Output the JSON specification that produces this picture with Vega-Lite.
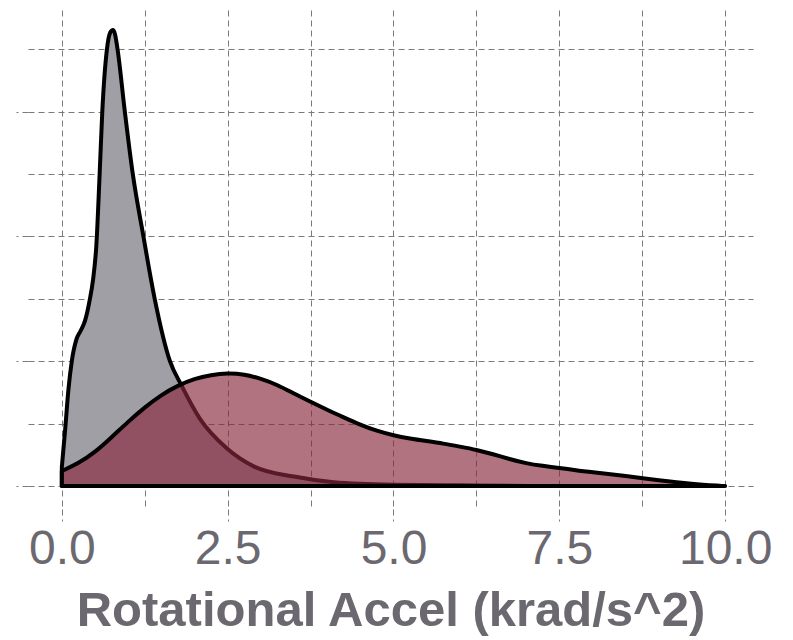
{
  "$schema": "https://vega.github.io/schema/vega-lite/v6.json",
  "width": 725,
  "height": 499,
  "autosize": "none",
  "padding": {"left": 28, "top": 10, "right": 40, "bottom": 131},
  "background": "white",
  "config": {"view": {"stroke": null}},
  "datasets": {
    "gray": [
      {"x": 0, "y": 0.03}, {"x": 0.05, "y": 0.09}, {"x": 0.1, "y": 0.155}, {"x": 0.15, "y": 0.2},
      {"x": 0.22, "y": 0.235}, {"x": 0.28, "y": 0.248}, {"x": 0.35, "y": 0.265}, {"x": 0.42, "y": 0.298},
      {"x": 0.47, "y": 0.33}, {"x": 0.52, "y": 0.385}, {"x": 0.57, "y": 0.5}, {"x": 0.61, "y": 0.6},
      {"x": 0.68, "y": 0.7}, {"x": 0.73, "y": 0.727}, {"x": 0.77, "y": 0.731}, {"x": 0.8, "y": 0.725},
      {"x": 0.84, "y": 0.7}, {"x": 0.95, "y": 0.6}, {"x": 1.07, "y": 0.5}, {"x": 1.23, "y": 0.4},
      {"x": 1.4, "y": 0.3}, {"x": 1.63, "y": 0.2}, {"x": 1.8, "y": 0.162}, {"x": 2.08, "y": 0.108},
      {"x": 2.49, "y": 0.06}, {"x": 2.9, "y": 0.031}, {"x": 3.5, "y": 0.015}, {"x": 4.1, "y": 0.006},
      {"x": 5, "y": 0.002}, {"x": 6, "y": 0.001}, {"x": 7, "y": 0}, {"x": 10, "y": 0}
    ],
    "maroon": [
      {"x": 0, "y": 0.024}, {"x": 0.25, "y": 0.036}, {"x": 0.5, "y": 0.054}, {"x": 0.75, "y": 0.078},
      {"x": 1.0, "y": 0.103}, {"x": 1.25, "y": 0.126}, {"x": 1.5, "y": 0.146}, {"x": 1.75, "y": 0.161},
      {"x": 2.0, "y": 0.172}, {"x": 2.25, "y": 0.178}, {"x": 2.5, "y": 0.181}, {"x": 2.75, "y": 0.179},
      {"x": 3.0, "y": 0.172}, {"x": 3.25, "y": 0.162}, {"x": 3.5, "y": 0.148}, {"x": 3.75, "y": 0.135},
      {"x": 4.0, "y": 0.122}, {"x": 4.25, "y": 0.11}, {"x": 4.5, "y": 0.098}, {"x": 4.75, "y": 0.088},
      {"x": 5.0, "y": 0.081}, {"x": 5.25, "y": 0.076}, {"x": 5.5, "y": 0.072}, {"x": 5.75, "y": 0.068},
      {"x": 6.0, "y": 0.063}, {"x": 6.25, "y": 0.058}, {"x": 6.5, "y": 0.051}, {"x": 6.75, "y": 0.043},
      {"x": 7.0, "y": 0.036}, {"x": 7.25, "y": 0.032}, {"x": 7.5, "y": 0.029}, {"x": 7.75, "y": 0.025},
      {"x": 8.0, "y": 0.022}, {"x": 8.5, "y": 0.016}, {"x": 9.0, "y": 0.009}, {"x": 9.5, "y": 0.003},
      {"x": 9.95, "y": 0}
    ]
  },
  "layer": [
    {
      "data": {"name": "gray"},
      "mark": {"type": "area", "interpolate": "monotone", "fill": "#a09fa6", "stroke": "black", "strokeWidth": 4, "strokeJoin": "round"},
      "encoding": {
        "x": {
          "field": "x", "type": "quantitative",
          "scale": {"domain": [-0.51, 10.42], "nice": false, "zero": false},
          "axis": {
            "values": [0, 1.25, 2.5, 3.75, 5, 6.25, 7.5, 8.75, 10],
            "grid": true, "gridDash": [6, 4], "gridColor": "#7a7a7a", "gridWidth": 1,
            "domain": false,
            "ticks": true, "tickSize": 12, "tickDash": [6, 4], "tickColor": "#7a7a7a", "tickWidth": 1,
            "tickOpacity": {"condition": {"test": "datum.value % 2.5 !== 0", "value": 0}, "value": 1},
            "labelExpr": "datum.value % 2.5 === 0 ? format(datum.value, '.1f') : ''",
            "labelFont": "Liberation Sans", "labelFontSize": 48, "labelColor": "#6b6870",
            "labelPadding": 4, "labelOverlap": false, "labelFlush": false,
            "title": "Rotational Accel (krad/s^2)",
            "titleFont": "Liberation Sans", "titleFontSize": 49, "titleFontWeight": "bold",
            "titleColor": "#6b6870", "titlePadding": 13
          }
        },
        "y": {
          "field": "y", "type": "quantitative",
          "scale": {"domain": [-0.037, 0.763], "nice": false, "zero": false},
          "axis": {
            "values": [0, 0.1, 0.2, 0.3, 0.4, 0.5, 0.6, 0.7],
            "grid": true, "gridDash": [6, 4], "gridColor": "#7a7a7a", "gridWidth": 1,
            "domain": false, "labels": false, "title": null,
            "ticks": true, "tickSize": 12, "tickDash": [6, 4], "tickColor": "#7a7a7a", "tickWidth": 1,
            "tickOpacity": {"condition": {"test": "round(datum.value * 10) % 2 === 1", "value": 0}, "value": 1}
          }
        }
      }
    },
    {
      "data": {"name": "maroon"},
      "mark": {"type": "area", "interpolate": "basis", "fill": "#89283e", "fillOpacity": 0.65, "stroke": "black", "strokeWidth": 4, "strokeJoin": "round"},
      "encoding": {
        "x": {"field": "x", "type": "quantitative"},
        "y": {"field": "y", "type": "quantitative"}
      }
    }
  ]
}
